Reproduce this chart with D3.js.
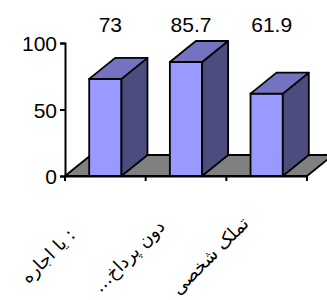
<!DOCTYPE html>
<html>
<head>
<meta charset="utf-8">
<script src="https://cdn.jsdelivr.net/npm/d3@7"></script>
<style>
  body { margin: 0; background: #fff; }
  #chart { position: relative; width: 327px; height: 300px; overflow: hidden; }
  text { font-family: "Liberation Sans", Arial, "DejaVu Sans", sans-serif; fill: #000; }
  .cat {
    position: absolute;
    white-space: nowrap;
    font-family: "DejaVu Sans", sans-serif;
    font-size: 18px;
    line-height: 1;
    direction: rtl;
    color: #000;
  }
</style>
</head>
<body>
<div id="chart"></div>
<script>
const categories = [": یا اجاره", "دون پرداخ...", "تملک شخصی"];
const values = [73, 85.7, 61.9];
const yTicks = [0, 50, 100];

const width = 327, height = 300;
const margin = {top: 43, right: 20, bottom: 124, left: 65};
const depth = {dx: 26, dy: -21};

const svg = d3.select("#chart").append("svg")
    .attr("width", width)
    .attr("height", height);

const x = d3.scaleBand()
    .domain(categories)
    .range([margin.left, width - margin.right])
    .padding(0);

const y = d3.scaleLinear()
    .domain([0, 100])
    .range([height - margin.bottom, margin.top]);

const y0 = y(0);
const barW = x.bandwidth() * 0.4;

// floor
svg.append("polygon")
    .attr("points", [
        [x.range()[0], y0],
        [x.range()[1], y0],
        [x.range()[1] + depth.dx, y0 + depth.dy],
        [x.range()[0] + depth.dx, y0 + depth.dy]
    ].map(p => p.join(",")).join(" "))
    .attr("fill", "#808080")
    .attr("stroke", "#000")
    .attr("stroke-width", 1.8)
    .attr("stroke-linejoin", "round");

// bars
const bars = svg.selectAll(".bar")
    .data(values)
    .join("g")
    .attr("class", "bar");

bars.append("rect")
    .attr("x", (d, i) => x(categories[i]) + (x.bandwidth() - barW) / 2)
    .attr("y", d => y(d))
    .attr("width", barW)
    .attr("height", d => y0 - y(d))
    .attr("fill", "#9999FF")
    .attr("stroke", "#000")
    .attr("stroke-width", 1.8);

// side face
bars.append("polygon")
    .attr("points", (d, i) => {
        const r = x(categories[i]) + (x.bandwidth() + barW) / 2;
        return [[r, y(d)], [r + depth.dx, y(d) + depth.dy], [r + depth.dx, y0 + depth.dy], [r, y0]]
            .map(p => p.join(",")).join(" ");
    })
    .attr("fill", "#4C4C7F")
    .attr("stroke", "#000")
    .attr("stroke-width", 1.8)
    .attr("stroke-linejoin", "round");

// top face
bars.append("polygon")
    .attr("points", (d, i) => {
        const l = x(categories[i]) + (x.bandwidth() - barW) / 2;
        const r = l + barW;
        return [[l, y(d)], [r, y(d)], [r + depth.dx, y(d) + depth.dy], [l + depth.dx, y(d) + depth.dy]]
            .map(p => p.join(",")).join(" ");
    })
    .attr("fill", "#7373BF")
    .attr("stroke", "#000")
    .attr("stroke-width", 1.8)
    .attr("stroke-linejoin", "round");

// value labels
svg.selectAll(".val")
    .data(values)
    .join("text")
    .attr("class", "val")
    .attr("x", (d, i) => x(categories[i]) + x.bandwidth() / 2 + 5)
    .attr("y", 32)
    .attr("text-anchor", "middle")
    .attr("font-size", 21)
    .text(d => d);

// y axis
const yAxis = d3.axisLeft(y)
    .tickValues(yTicks)
    .tickSize(5)
    .tickPadding(3);
const gy = svg.append("g")
    .attr("transform", `translate(${margin.left},0)`)
    .call(yAxis);
gy.select(".domain").attr("stroke", "#000").attr("stroke-width", 2);
gy.selectAll(".tick line").attr("stroke", "#000").attr("stroke-width", 2);
gy.selectAll(".tick text")
    .attr("font-size", 21)
    .attr("font-family", "Liberation Sans, Arial, sans-serif")
    .attr("dy", "0.36em");

// x axis
const xAxis = d3.axisBottom(x).tickSize(0).tickFormat("");
const gx = svg.append("g")
    .attr("transform", `translate(0,${y0})`)
    .call(xAxis);
gx.select(".domain").attr("stroke", "#000").attr("stroke-width", 2);
gx.selectAll(".tick").remove();
const bounds = categories.map(c => x(c)).concat([x.range()[1]]);
gx.selectAll(".xt")
    .data(bounds)
    .join("line")
    .attr("class", "xt")
    .attr("x1", d => d).attr("x2", d => d)
    .attr("y1", 0).attr("y2", 5)
    .attr("stroke", "#000")
    .attr("stroke-width", 2);

// category labels, rotated 45 degrees (html so the arabic glyphs turn too)
d3.select("#chart").selectAll(".cat")
    .data(categories)
    .join("div")
    .attr("class", "cat")
    .style("left", d => (x(d) + x.bandwidth() / 2 - 57) + "px")
    .style("top", (y0 + 80) + "px")
    .style("transform", "translate(-50%, -50%) rotate(-45deg)")
    .text(d => d);
</script>
</body>
</html>
